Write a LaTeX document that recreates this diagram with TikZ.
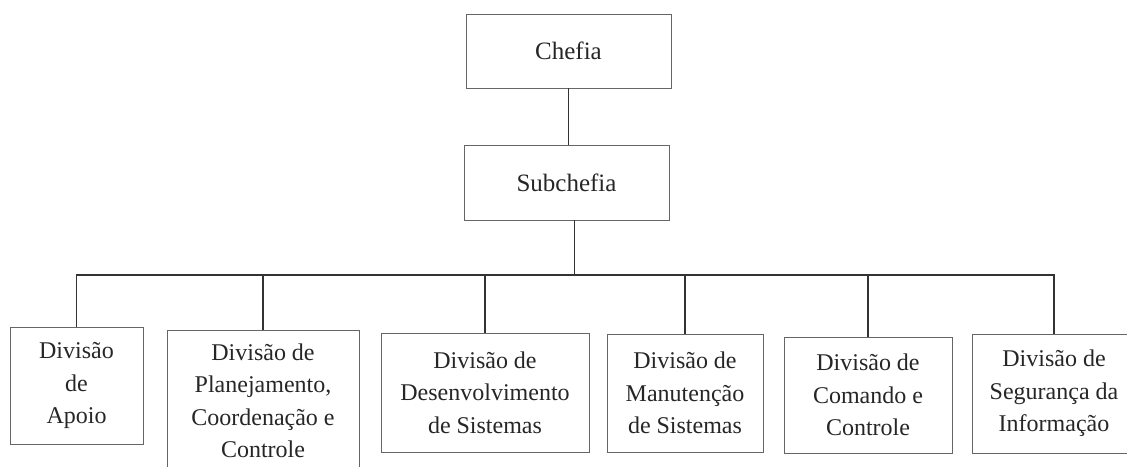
\documentclass[tikz,border=0pt]{standalone}
\usepackage{fontspec}
\setmainfont{Liberation Serif}
\begin{document}
\begin{tikzpicture}[x=1pt,y=-1pt,
  box/.style={draw=black!60, line width=0.9pt, text=black!85, align=center, inner sep=0pt},
  toptxt/.style={font=\fontsize{25}{31}\selectfont},
  divtxt/.style={font=\fontsize{24}{32.5}\selectfont},
  link/.style={draw=black!80, line width=1.4pt}]
\useasboundingbox (0,0) rectangle (1127,466);
\clip (0,0) rectangle (1127,466);
\node[box, toptxt, minimum width=205pt, minimum height=74pt] (chefia) at (568.5,51) {Chefia};
\node[box, toptxt, minimum width=205pt, minimum height=75pt] (sub) at (566.5,182.5) {Subchefia};
\node[box, divtxt, minimum width=133pt, minimum height=117pt] (d1) at (76.5,385.5) {Divisão\\de\\Apoio};
\node[box, divtxt, minimum width=192pt, minimum height=142pt] (d2) at (263,401) {Divisão de\\Planejamento,\\Coordenação e\\Controle};
\node[box, divtxt, minimum width=208pt, minimum height=119pt] (d3) at (485,392.5) {Divisão de\\Desenvolvimento\\de Sistemas};
\node[box, divtxt, minimum width=156pt, minimum height=118pt] (d4) at (685,393) {Divisão de\\Manutenção\\de Sistemas};
\node[box, divtxt, minimum width=168pt, minimum height=116pt] (d5) at (868,395) {Divisão de\\Comando e\\Controle};
\node[box, divtxt, minimum width=164pt, minimum height=119pt] (d6) at (1054,393.5) {Divisão de\\Segurança da\\Informação};
\coordinate (bus) at (575,275);
\coordinate (bl) at (d1.north |- bus);
\coordinate (br) at (d6.north |- bus);
\path[link] (chefia.south) -- (chefia.south |- sub.north);
\path[link] ([xshift=8pt]sub.south) -- ([xshift=8pt]sub.south |- bus);
\path[link] (d1.north) -- (bl) -- (br) -- (d6.north);
\path[link] (d2.north) -- (d2.north |- bus);
\path[link] (d3.north) -- (d3.north |- bus);
\path[link] (d4.north) -- (d4.north |- bus);
\path[link] (d5.north) -- (d5.north |- bus);
\end{tikzpicture}
\end{document}
